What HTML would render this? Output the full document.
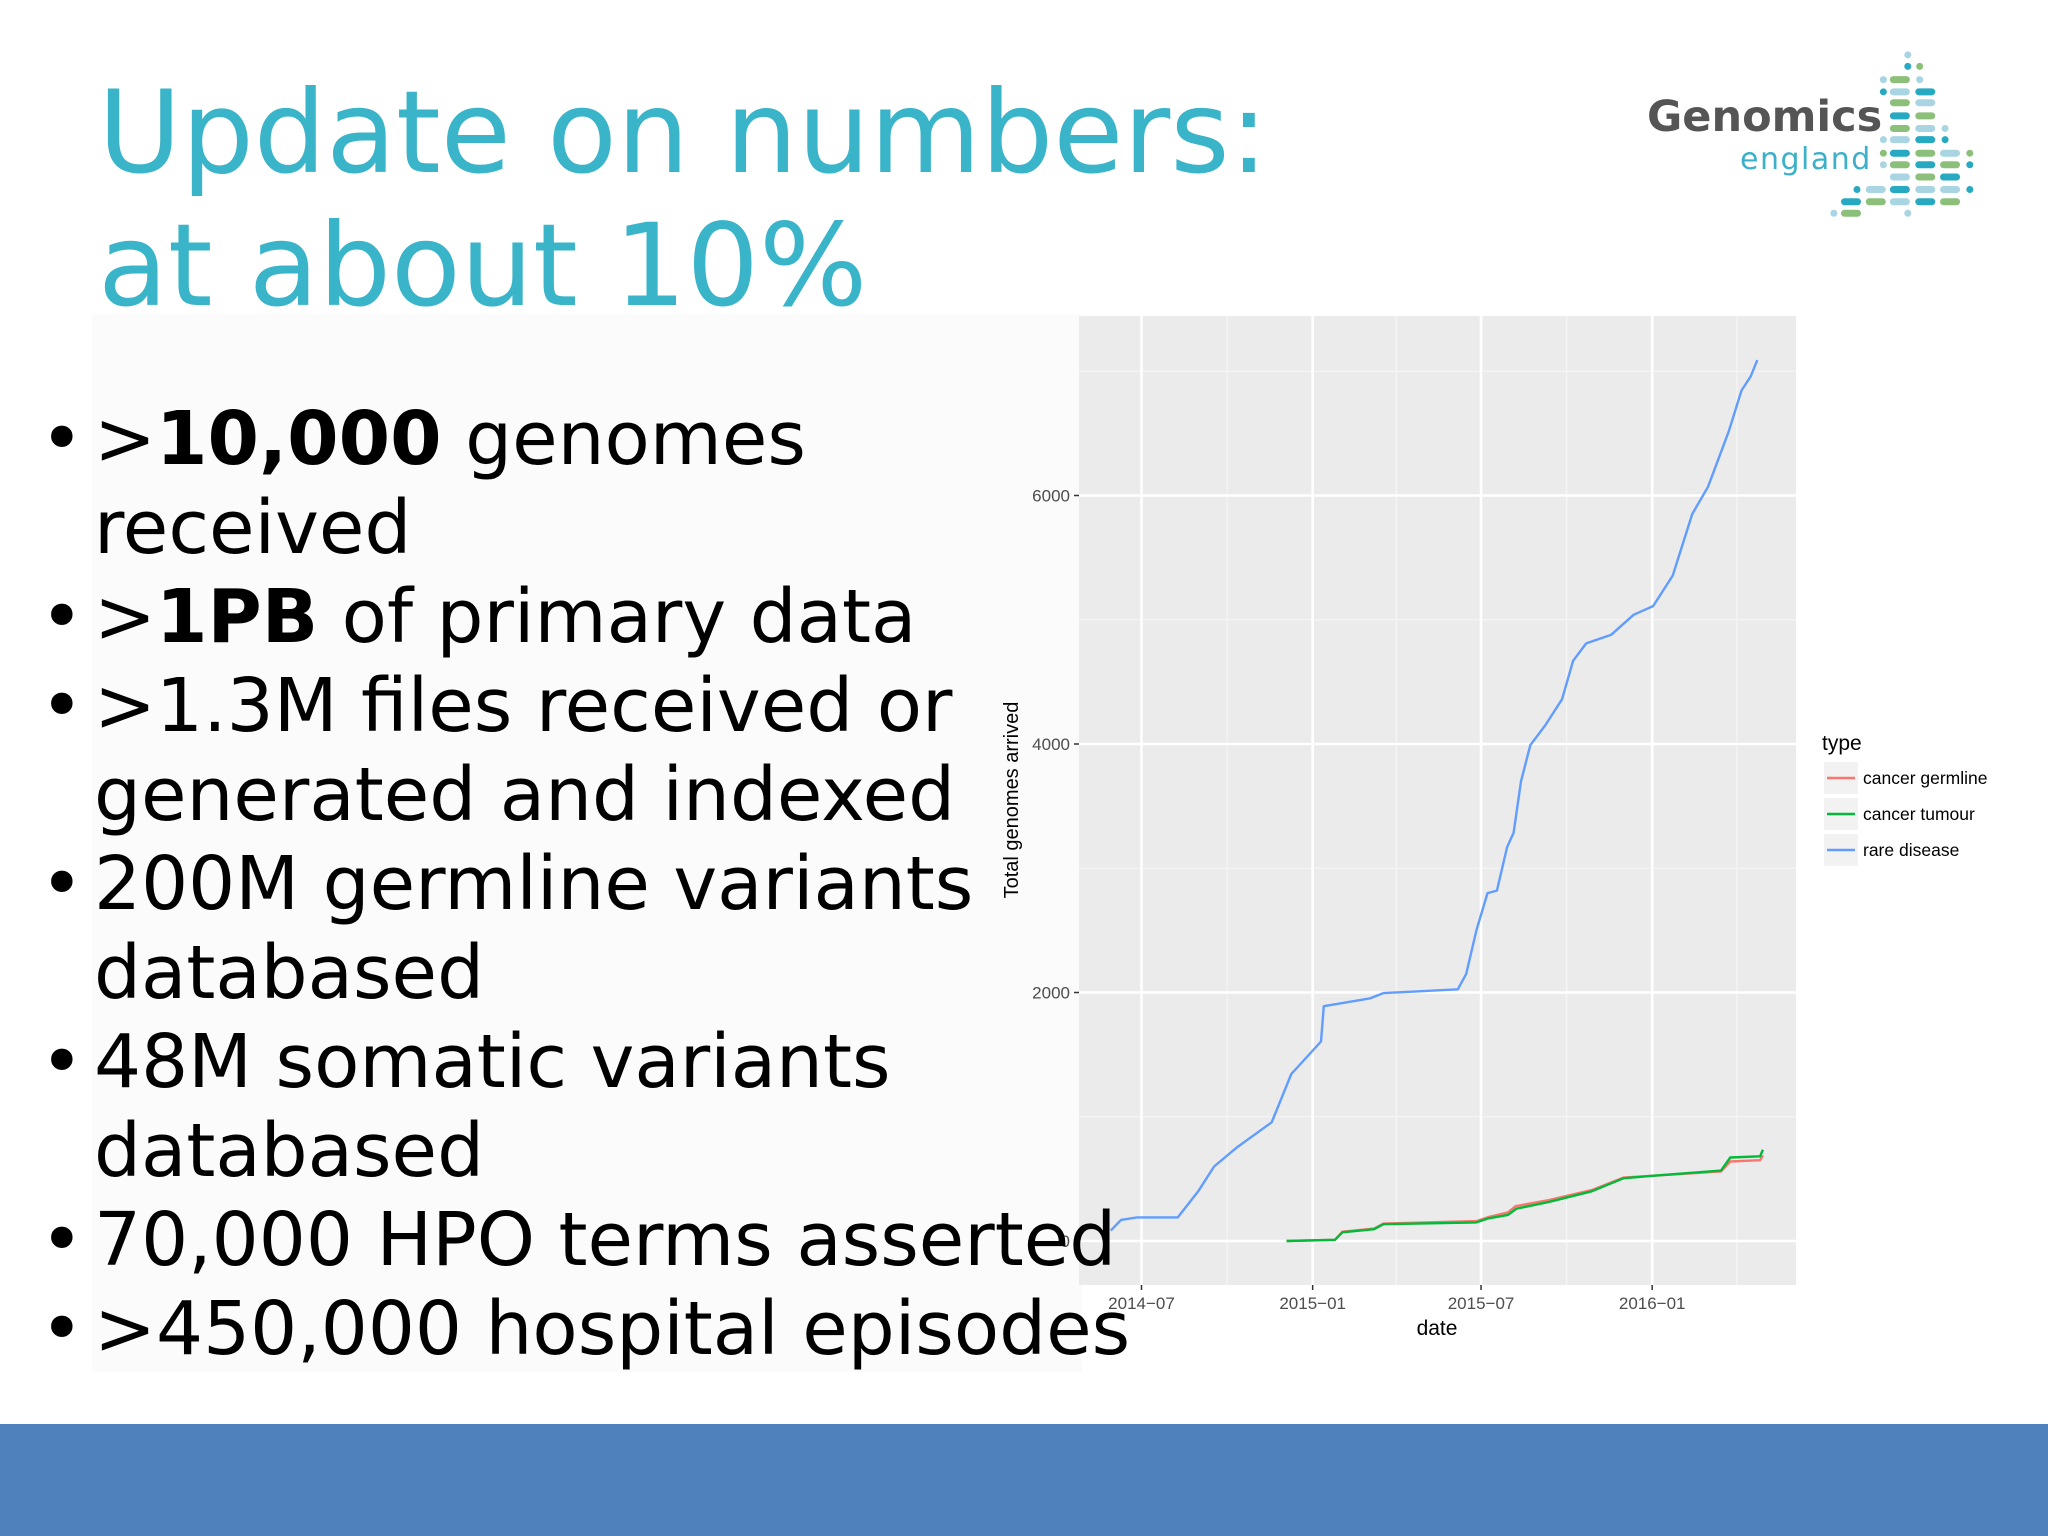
<!DOCTYPE html>
<html><head><meta charset="utf-8">
<style>
html,body{margin:0;padding:0;background:#fff;}
#page{position:relative;width:2048px;height:1536px;overflow:hidden;background:#fff;font-family:"DejaVu Sans","Liberation Sans",sans-serif;}
.title{position:absolute;left:98px;color:#39b4c8;font-size:114px;line-height:1;white-space:nowrap;}
.bul{position:absolute;left:94px;font-size:74px;color:#000;white-space:nowrap;line-height:1;}
.dot{position:absolute;left:-54px;}
</style></head>
<body>
<div id="page">
<div style="position:absolute;left:92px;top:314px;width:990px;height:1058px;background:#fbfbfc;"></div>
<div class="title" style="top:76px;">Update on numbers:</div>
<div class="title" style="top:209px;">at about 10%</div>

<div style="position:absolute;left:0;top:1424px;width:2048px;height:112px;background:#4f81bd;"></div>

<div style="position:absolute;left:0;top:0;">
<div style="position:absolute;left:1647px;top:92px;font-family:'DejaVu Sans',sans-serif;font-weight:bold;font-size:43px;color:#555;white-space:nowrap;">Genomics</div>
<div style="position:absolute;left:1740px;top:142px;font-family:'DejaVu Sans',sans-serif;font-size:30px;color:#3bb0c8;letter-spacing:1.5px;white-space:nowrap;">england</div>
<svg id="logodots" width="2048" height="260" style="position:absolute;left:0;top:0;"></svg>
</div>

<svg id="chart" width="2048" height="1536" style="position:absolute;left:0;top:0;font-family:'Liberation Sans',sans-serif;"></svg>

<div style="position:absolute;left:0;top:0;">
<div class="bul" style="top:402px;"><span class="dot">•</span>&gt;<b>10,000</b> genomes</div>
<div class="bul" style="top:491px;">received</div>
<div class="bul" style="top:580px;"><span class="dot">•</span>&gt;<b>1PB</b> of primary data</div>
<div class="bul" style="top:669px;"><span class="dot">•</span>&gt;1.3M files received or</div>
<div class="bul" style="top:758px;">generated and indexed</div>
<div class="bul" style="top:847px;"><span class="dot">•</span>200M germline variants</div>
<div class="bul" style="top:936px;">databased</div>
<div class="bul" style="top:1025px;"><span class="dot">•</span>48M somatic variants</div>
<div class="bul" style="top:1114px;">databased</div>
<div class="bul" style="top:1203px;"><span class="dot">•</span>70,000 HPO terms asserted</div>
<div class="bul" style="top:1292px;"><span class="dot">•</span>&gt;450,000 hospital episodes</div>
</div>
</div>

<script>
// ---- chart data ----
const blueDates = ["2014-05-29","2014-06-09","2014-06-26","2014-08-09","2014-08-31","2014-09-17","2014-10-12","2014-11-18","2014-12-09","2015-01-10","2015-01-13","2015-03-04","2015-03-18","2015-06-06","2015-06-15","2015-06-26","2015-07-08","2015-07-18","2015-07-29","2015-08-05","2015-08-13","2015-08-23","2015-09-08","2015-09-26","2015-10-08","2015-10-22","2015-11-18","2015-12-12","2016-01-02","2016-01-23","2016-02-13","2016-03-01","2016-03-23","2016-04-06","2016-04-16","2016-04-23"];
const blueValues = [84,170,190,190,400,600,756,955,1344,1606,1890,1953,1995,2026,2150,2500,2800,2820,3170,3285,3700,3990,4150,4360,4670,4810,4880,5040,5110,5355,5850,6070,6510,6845,6960,7090];
const greenDates = ["2014-12-04","2015-01-25","2015-02-02","2015-03-08","2015-03-18","2015-06-26","2015-07-08","2015-07-30","2015-08-08","2015-09-12","2015-10-28","2015-12-01","2016-01-01","2016-03-15","2016-03-25","2016-04-26","2016-04-29"];
const greenValues = [0,10,70,95,135,150,180,210,260,315,400,505,525,567,672,682,735];
const redDates = ["2014-12-04","2015-01-25","2015-02-02","2015-03-08","2015-03-18","2015-06-26","2015-07-10","2015-07-30","2015-08-07","2015-09-12","2015-10-28","2015-12-01","2016-01-01","2016-03-15","2016-03-25","2016-04-26","2016-04-29"];
const redValues = [0,10,75,100,140,160,195,230,280,330,410,510,525,560,640,650,690];
const yTicks = [0,2000,4000,6000];
const yTickLabels = ["0","2000","4000","6000"];
const yMinor = [1000,3000,5000,7000];
const xTicks = ["2014-07-01","2015-01-01","2015-07-01","2016-01-01"];
const xTickLabels = ["2014\u221207","2015\u221201","2015\u221207","2016\u221201"];
const xMinor = ["2014-10-01","2015-04-01","2015-10-01","2016-04-01"];
const legendLabels = ["cancer germline","cancer tumour","rare disease"];
const legendColors = ["#f8766d","#00ba38","#619cff"];

const NS="http://www.w3.org/2000/svg";
const svg=document.getElementById('chart');
const P={l:1079,r:1796,t:316,b:1285};
function day(s){return Date.parse(s+"T00:00:00Z")/86400000;}
const d0=day("2014-07-01"), x0=1141.5, pxPerDay=(1652.2-1141.5)/(day("2016-01-01")-d0);
function X(s){return x0+(day(s)-d0)*pxPerDay;}
function Y(v){return 1241-v*(248.5/2000);}
function mk(tag,attrs,parent){const e=document.createElementNS(NS,tag);for(const k in attrs)e.setAttribute(k,attrs[k]);(parent||svg).appendChild(e);return e;}

const bg=mk('rect',{x:P.l,y:P.t,width:P.r-P.l,height:P.b-P.t,fill:'#ebebeb'});


yMinor.forEach(v=>{const l=mk('line',{x1:P.l,x2:P.r,y1:Y(v),y2:Y(v),stroke:'#f5f5f5','stroke-width':1.3});

});
xMinor.forEach(d=>{const l=mk('line',{x1:X(d),x2:X(d),y1:P.t,y2:P.b,stroke:'#f5f5f5','stroke-width':1.3});

});
yTicks.forEach((v,i)=>{const l=mk('line',{x1:P.l,x2:P.r,y1:Y(v),y2:Y(v),stroke:'#fff','stroke-width':2.6});


const tk=mk('line',{x1:P.l-5,x2:P.l,y1:Y(v),y2:Y(v),stroke:'#333','stroke-width':1.5});


const t=mk('text',{x:P.l-9,y:Y(v)+6,'text-anchor':'end','font-size':17,fill:'#4d4d4d'});t.textContent=yTickLabels[i];

});
xTicks.forEach((d,i)=>{const l=mk('line',{x1:X(d),x2:X(d),y1:P.t,y2:P.b,stroke:'#fff','stroke-width':2.6});


const tk=mk('line',{x1:X(d),x2:X(d),y1:P.b,y2:P.b+5,stroke:'#333','stroke-width':1.5});


const t=mk('text',{x:X(d),y:P.b+24,'text-anchor':'middle','font-size':17,fill:'#4d4d4d'});t.textContent=xTickLabels[i];

});

function series(dates,vals,color,name){
 const pts=dates.map((d,i)=>X(d).toFixed(1)+","+Y(vals[i]).toFixed(1)).join(" ");
 const p=mk('polyline',{points:pts,fill:'none',stroke:color,'stroke-width':2.4,'stroke-linejoin':'round'});
 
 
}
series(redDates,redValues,legendColors[0],'line-cancer-germline');
series(greenDates,greenValues,legendColors[1],'line-cancer-tumour');
series(blueDates,blueValues,legendColors[2],'line-rare-disease');

const yt=mk('text',{x:0,y:0,transform:'translate(1018,800) rotate(-90)','text-anchor':'middle','font-size':20,fill:'#000'});yt.textContent='Total genomes arrived';


const xt=mk('text',{x:1437,y:1335,'text-anchor':'middle','font-size':21,fill:'#000'});xt.textContent='date';



const lt=mk('text',{x:1822,y:750,'font-size':21,fill:'#000'});lt.textContent='type';


legendLabels.forEach((lab,i)=>{const y=778+i*36;
 const k=mk('rect',{x:1824,y:y-16,width:34,height:32,fill:'#f2f2f2'});
 
 
 const l=mk('line',{x1:1827,x2:1855,y1:y,y2:y,stroke:legendColors[i],'stroke-width':2.4});
 
 
 const t=mk('text',{x:1863,y:y+6,'font-size':17.5,fill:'#000'});t.textContent=lab;
 
 });

// ---- logo dots ----
const ld=document.getElementById('logodots');
const T='#27a9c1',G='#8cc07a',L='#a9d5e2';
const rows=[[45,[[872,0,L]]],[80,[[872,0,T],[908,0,G]]],[120,[[798,0,L],[848,1,G],[908,0,L]]],
[157,[[798,0,T],[848,1,L],[925,1,T]]],[190,[[848,1,G],[925,1,L]]],[230,[[848,1,T],[925,1,G]]],
[268,[[848,1,G],[925,1,L],[985,0,L]]],[302,[[798,0,L],[848,1,L],[925,1,T],[985,0,T]]],
[343,[[798,0,G],[848,1,T],[925,1,G],[1000,1,L],[1060,0,G]]],[378,[[798,0,L],[848,1,G],[925,1,T],[1000,1,G],[1060,0,T]]],
[415,[[848,1,L],[925,1,G],[1000,1,T]]],[453,[[718,0,T],[775,1,L],[848,1,T],[925,1,L],[1000,1,L],[1060,0,T]]],
[490,[[700,1,T],[775,1,G],[848,1,L],[925,1,T],[1000,1,G]]],[525,[[648,0,L],[700,1,G],[872,0,L]]]];
rows.forEach(r=>{const y=40+r[0]/3.03;r[1].forEach(c=>{const x=1620+c[0]/3.03;const w=c[1]?20:7;
 const e=document.createElementNS(NS,'rect');e.setAttribute('x',x-w/2);e.setAttribute('y',y-3.5);e.setAttribute('width',w);e.setAttribute('height',7);e.setAttribute('rx',3.5);e.setAttribute('fill',c[2]);
 
 
 ld.appendChild(e);});});
</script>
</body></html>
